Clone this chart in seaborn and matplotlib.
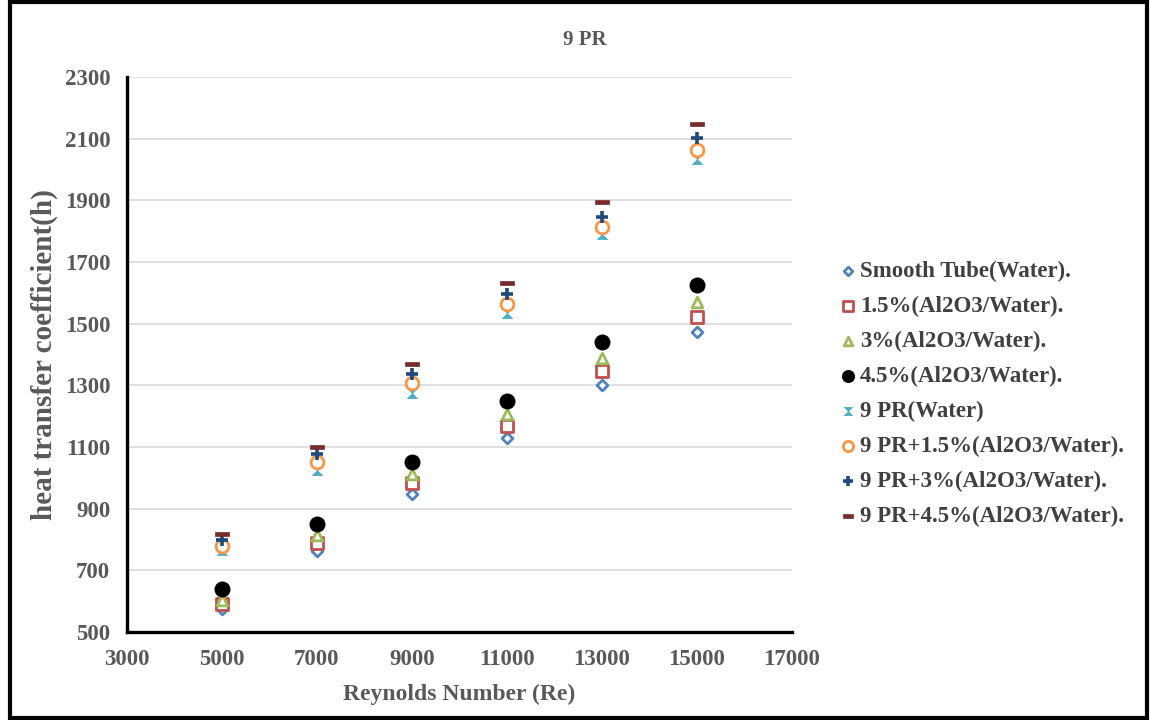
import matplotlib
matplotlib.use("Agg")
import matplotlib.pyplot as plt
import seaborn as sns
import pandas as pd
from matplotlib.patches import Rectangle

reynolds = [5000, 7000, 9000, 11000, 13000, 15000]
smooth_water = [575, 763, 947, 1129, 1301, 1473]
al_15 = [591, 789, 984, 1168, 1347, 1522]
al_3 = [604, 815, 1012, 1207, 1389, 1570]
al_45 = [639, 850, 1051, 1249, 1441, 1625]
pr_water = [765, 1025, 1275, 1535, 1791, 2034]
pr_al_15 = [778, 1051, 1308, 1563, 1814, 2063]
pr_al_3 = [800, 1077, 1337, 1596, 1846, 2102]
pr_al_45 = [818, 1100, 1369, 1632, 1895, 2148]

labels = ["Smooth Tube(Water).", "1.5%(Al2O3/Water).", "3%(Al2O3/Water).",
          "4.5%(Al2O3/Water).", "9 PR(Water)", "9 PR+1.5%(Al2O3/Water).",
          "9 PR+3%(Al2O3/Water).", "9 PR+4.5%(Al2O3/Water)."]
series = [smooth_water, al_15, al_3, al_45, pr_water, pr_al_15, pr_al_3, pr_al_45]

bowtie = [(-1, 1), (1, 1), (-1, -1), (1, -1), (-1, 1)]
dash = [(-1, -0.32), (1, -0.32), (1, 0.32), (-1, 0.32), (-1, -0.32)]

styles = [
    dict(marker="D", s=30, color="#4F81BD", facecolor="white", linewidth=2.0),
    dict(marker="s", s=80, color="#C0504D", facecolor="white", linewidth=2.0),
    dict(marker="^", s=60, color="#9BBB59", facecolor="white", linewidth=2.0),
    dict(marker="o", s=110, color="black", facecolor="black", linewidth=1.0),
    dict(marker=bowtie, s=55, color="#4BACC6", facecolor="#4BACC6", linewidth=0.5),
    dict(marker="o", s=85, color="#F79646", facecolor="white", linewidth=2.0),
    dict(marker="+", s=70, color="#1F497D", facecolor="#1F497D", linewidth=2.6),
    dict(marker=dash, s=90, color="#772C2A", facecolor="#772C2A", linewidth=0.5),
]

sns.set_style("white")
plt.rcParams["font.family"] = ["Liberation Serif", "DejaVu Serif"]
plt.rcParams["font.weight"] = "bold"

fig = plt.figure(figsize=(11.51, 7.2), dpi=100)
ax = fig.add_axes([127 / 1151, 1 - 632 / 720, (792 - 127) / 1151, (632 - 77) / 720])

for lab, vals, st in zip(labels, series, styles):
    df = pd.DataFrame({"Re": reynolds, "h": vals})
    st = dict(st)
    sns.scatterplot(data=df, x="Re", y="h", ax=ax, label=lab,
                    edgecolor=st["color"], zorder=3, **st)

ax.set_xlim(3000, 17000)
ax.set_ylim(500, 2300)
ax.set_xticks(range(3000, 17001, 2000))
ax.set_yticks(range(500, 2301, 200))
ax.yaxis.grid(True, color="#D9D9D9", linewidth=1.2)
ax.xaxis.grid(False)
ax.set_axisbelow(True)
for side in ["top", "right"]:
    ax.spines[side].set_visible(False)
for side in ["left", "bottom"]:
    ax.spines[side].set_color("black")
    ax.spines[side].set_linewidth(2.4)
ax.tick_params(axis="both", direction="out", length=5, width=2.2, color="black",
               labelsize=16.5, labelcolor="#595959", pad=7)
for t in ax.get_xticklabels() + ax.get_yticklabels():
    t.set_fontweight("bold")

ax.set_xlabel("Reynolds Number (Re)", fontsize=17, color="#595959",
              fontweight="bold", labelpad=10)
ax.set_ylabel("heat transfer coefficient(h)", fontsize=21, color="#595959",
              fontweight="bold", labelpad=5)

fig.text(585 / 1151, 1 - 40 / 720, "9 PR", ha="center", va="center",
         fontsize=15, color="#595959", fontweight="bold")

leg = ax.legend(loc="upper left", bbox_to_anchor=(827 / 1151, 1 - 252 / 720),
                bbox_transform=fig.transFigure, frameon=False, fontsize=16.5,
                handletextpad=0.05, handlelength=1.0, labelspacing=0.6,
                borderaxespad=0, markerscale=0.8)
for t in leg.get_texts():
    t.set_color("#404040")
    t.set_fontweight("bold")

fig.patches.append(Rectangle((10 / 1151, 2 / 720), 1137 / 1151, 716 / 720,
                             transform=fig.transFigure, fill=False,
                             edgecolor="black", linewidth=3, zorder=10))

fig.savefig("out.png", dpi=100)
